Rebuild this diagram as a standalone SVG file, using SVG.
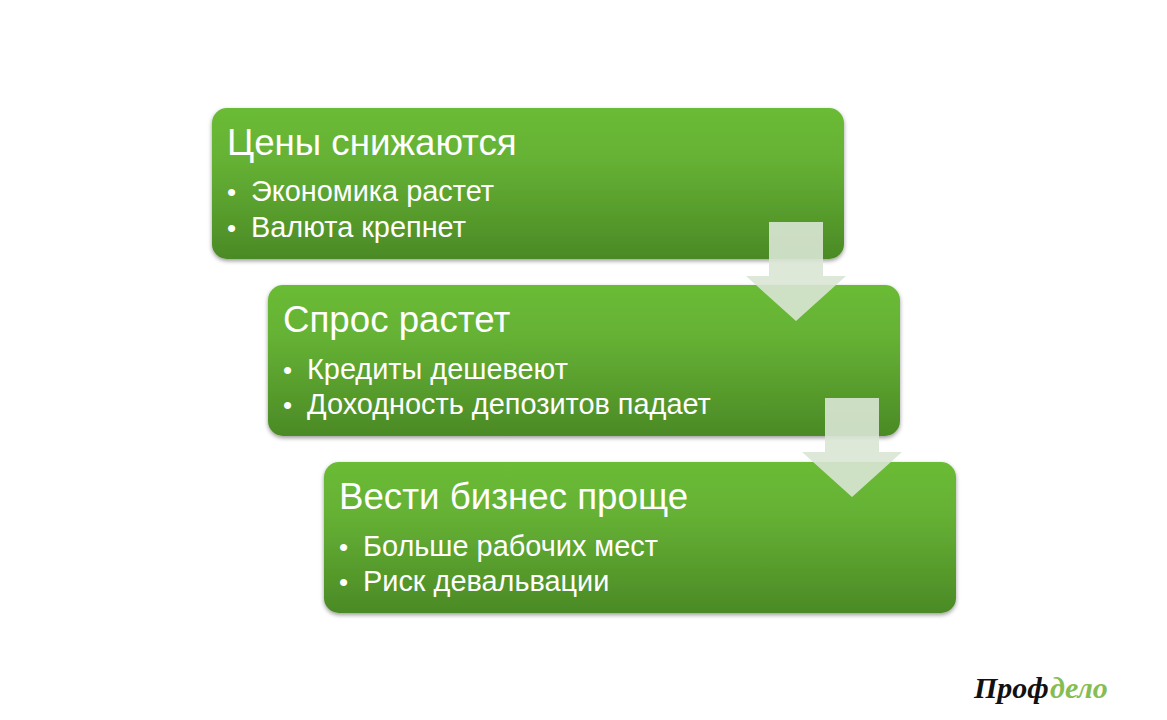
<svg xmlns="http://www.w3.org/2000/svg" width="1167" height="720" viewBox="0 0 1167 720">
<style>
.box{fill:url(#g);filter:url(#s)}
.t{font-family:"Liberation Sans",Arial,sans-serif;fill:#fff}
.h{font-size:36.7px}
.b{font-size:28.9px}
.d{font-size:26px}
.arrow{fill:#d9e6d5;fill-opacity:.9}
.logo{font-family:"Liberation Serif",serif;font-style:italic;font-weight:700;font-size:30px}
</style>
<defs>
<linearGradient id="g" x1="0" y1="0" x2="0" y2="1">
<stop offset="0" stop-color="#6abb36"/>
<stop offset=".35" stop-color="#65b134"/>
<stop offset="1" stop-color="#4b8a26"/>
</linearGradient>
<filter id="s" x="-3%" y="-6%" width="106%" height="114%">
<feDropShadow dx="0" dy="2" stdDeviation="2" flood-color="#000" flood-opacity=".4"/>
</filter>
</defs>
<rect width="1167" height="720" fill="#fff"/>
<g id="node1">
<rect class="box" x="212" y="108" width="632" height="151" rx="15"/>
<text class="t h" x="227" y="155">Цены снижаются</text>
<text class="t d" x="227" y="201">•</text><text class="t b" x="251" y="201">Экономика растет</text>
<text class="t d" x="227" y="237">•</text><text class="t b" x="251" y="237">Валюта крепнет</text>
</g>
<g id="node2">
<rect class="box" x="268" y="285" width="632" height="151" rx="15"/>
<text class="t h" x="283" y="332">Спрос растет</text>
<text class="t d" x="283" y="379">•</text><text class="t b" x="307" y="379">Кредиты дешевеют</text>
<text class="t d" x="283" y="414">•</text><text class="t b" x="307" y="414">Доходность депозитов падает</text>
</g>
<g id="node3">
<rect class="box" x="324" y="462" width="632" height="151" rx="15"/>
<text class="t h" x="339" y="509">Вести бизнес проще</text>
<text class="t d" x="339" y="556">•</text><text class="t b" x="363" y="556">Больше рабочих мест</text>
<text class="t d" x="339" y="591">•</text><text class="t b" x="363" y="591">Риск девальвации</text>
</g>
<g id="connectors">
<path class="arrow" d="M769 222H823V276H846L796 321L746 276H769Z"/>
<path class="arrow" d="M825 398H879V452H902L852 497L802 452H825Z"/>
</g>
<g id="logo">
<text class="logo" x="974" y="698" fill="#111">Проф</text>
<text class="logo" x="1050" y="698" fill="#86bd52">дело</text>
</g>
</svg>
